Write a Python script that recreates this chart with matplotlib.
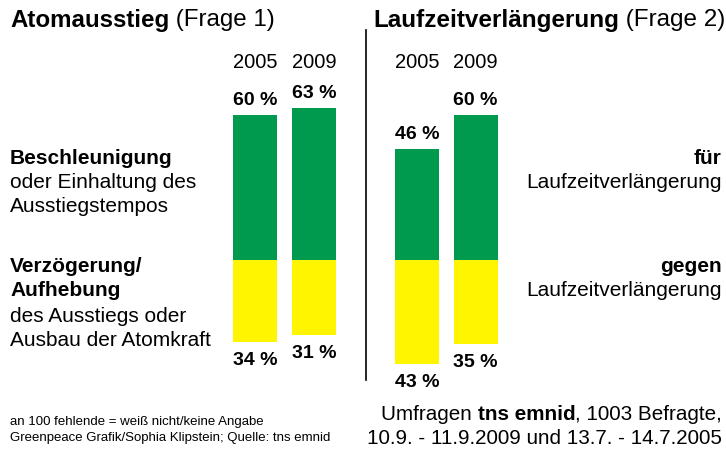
import matplotlib
matplotlib.use("Agg")
import matplotlib.pyplot as plt

plt.rcParams['font.family'] = ['Liberation Sans', 'DejaVu Sans']

# ---- data ----
years = ["2005", "2009"]
q1_pro = [60, 63]      # Beschleunigung oder Einhaltung
q1_contra = [34, 31]   # Verzögerung/Aufhebung
q2_pro = [46, 60]      # für Laufzeitverlängerung
q2_contra = [43, 35]   # gegen Laufzeitverlängerung

GREEN = "#009A4E"
YELLOW = "#FFF500"

W, H = 726, 450
fig = plt.figure(figsize=(W / 100, H / 100), dpi=100)
ax = fig.add_axes([0, 0, 1, 1])
ax.set_axis_off()

BASE = 260.0   # pixel row of zero line
SCALE = 2.41   # pixels per percent
ax.set_xlim(0, W)
ax.set_ylim(-(H - BASE) / SCALE, BASE / SCALE)


def py(p):
    """pixel row -> data y"""
    return (BASE - p) / SCALE


bar_w = 44
q1_x = [255, 314]
q2_x = [417, 475.5]

for xs, pro, con in ((q1_x, q1_pro, q1_contra), (q2_x, q2_pro, q2_contra)):
    ax.bar(xs, pro, width=bar_w, color=GREEN, bottom=0)
    ax.bar(xs, [-c for c in con], width=bar_w, color=YELLOW, bottom=0)
    for x, p, c, yr in zip(xs, pro, con, years):
        ax.text(x, p + 6.2, f"{p} %", ha="center", va="center", fontsize=14, fontweight="bold")
        ax.text(x, -c - 7.7, f"{c} %", ha="center", va="center", fontsize=14, fontweight="bold")
        ax.text(x, py(62), yr, ha="center", va="center", fontsize=14.5)

# vertical separator
ax.plot([366, 366], [py(30), py(380)], color="black", lw=1.2)

fig.canvas.draw()
renderer = fig.canvas.get_renderer()


def width_px(t):
    return t.get_window_extent(renderer).width


def run(x, y, pieces, fs, ha="left"):
    """draw sequence of (text, bold) pieces on one baseline in pixel coords"""
    arts = []
    for s, b in pieces:
        t = ax.text(0, py(y), s, fontsize=fs, fontweight="bold" if b else "normal",
                    ha="left", va="center")
        arts.append(t)
    widths = [width_px(t) for t in arts]
    total = sum(widths)
    cur = x if ha == "left" else x - total
    for t, w in zip(arts, widths):
        t.set_x(cur)
        cur += w


sp = "\u00a0"
# titles
run(10, 20, [("Atomausstieg", True), (sp + "(Frage 1)", False)], 17.4)
run(373, 20, [("Laufzeitverlängerung", True), (sp + "(Frage 2)", False)], 17.5)

# left category labels
FS = 15
run(10, 158, [("Beschleunigung", True)], FS)
run(10, 183, [("oder Einhaltung des", False)], FS)
run(10, 207, [("Ausstiegstempos", False)], FS)
run(10, 266, [("Verzögerung/", True)], FS)
run(10, 291, [("Aufhebung", True)], FS)
run(10, 316, [("des Ausstiegs oder", False)], FS)
run(10, 340, [("Ausbau der Atomkraft", False)], FS)

# right category labels
run(722, 158, [("für", True)], FS, ha="right")
run(722, 183, [("Laufzeitverlängerung", False)], FS, ha="right")
run(722, 266, [("gegen", True)], FS, ha="right")
run(722, 291, [("Laufzeitverlängerung", False)], FS, ha="right")

# footers
run(10, 422, [("an 100 fehlende = weiß nicht/keine Angabe", False)], 9.5)
run(10, 438, [("Greenpeace Grafik/Sophia Klipstein; Quelle: tns emnid", False)], 9.5)
run(722, 415, [("Umfragen" + sp, False), ("tns emnid", True), (", 1003 Befragte,", False)], 14.9, ha="right")
run(722, 438, [("10.9. - 11.9.2009 und 13.7. - 14.7.2005", False)], 14.9, ha="right")

fig.savefig("out.png", dpi=100)
